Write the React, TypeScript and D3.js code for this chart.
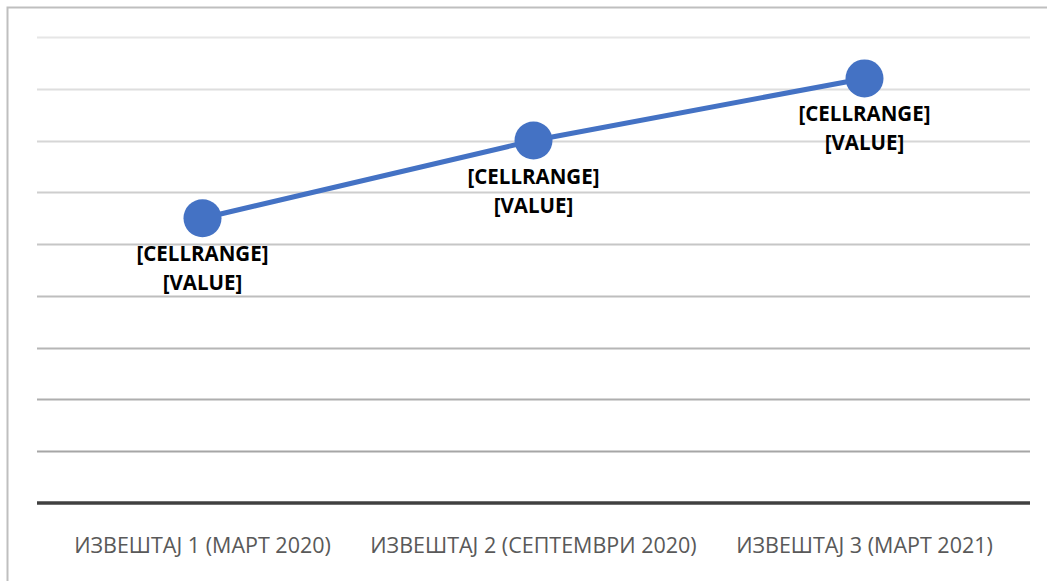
import React, { useEffect, useRef } from "react";
import * as d3 from "d3";

const CATEGORIES = [
  "ИЗВЕШТАЈ 1 (МАРТ 2020)",
  "ИЗВЕШТАЈ 2 (СЕПТЕМВРИ 2020)",
  "ИЗВЕШТАЈ 3 (МАРТ 2021)",
];
const VALUES = [5.5, 7.0, 8.2];
const Y_TICKS = [0, 1, 2, 3, 4, 5, 6, 7, 8, 9];
const LABEL_LINES = ["[CELLRANGE]", "[VALUE]"];

const W = 1047;
const H = 581;

export default function App() {
  const ref = useRef<SVGSVGElement>(null);

  useEffect(() => {
    if (!ref.current) return;
    const svg = d3.select(ref.current);
    svg.selectAll("*").remove();

    const margin = { left: 37, right: 17, top: 37, bottom: 78 };

    // chart frame
    svg
      .append("rect")
      .attr("x", 7.5)
      .attr("y", 7.5)
      .attr("width", W + 20)
      .attr("height", H + 20)
      .attr("fill", "#fff")
      .attr("stroke", "#bfbfbf")
      .attr("stroke-width", 2);

    const x = d3
      .scalePoint()
      .domain(CATEGORIES)
      .range([margin.left, W - margin.right])
      .padding(0.5);

    const y = d3
      .scaleLinear()
      .domain([0, 9])
      .range([503, margin.top]);

    // gridlines, getting darker toward the bottom
    const gridColor = d3
      .scaleLinear<string>()
      .domain([9, 1])
      .range(["#e6e6e6", "#a6a6a6"]);

    svg
      .append("g")
      .selectAll("line")
      .data(Y_TICKS.filter((d) => d > 0))
      .enter()
      .append("line")
      .attr("x1", margin.left)
      .attr("x2", W - margin.right)
      .attr("y1", (d) => Math.round(y(d)) + 0.5)
      .attr("y2", (d) => Math.round(y(d)) + 0.5)
      .attr("stroke", (d) => gridColor(d))
      .attr("stroke-width", 2);

    // baseline
    svg
      .append("line")
      .attr("x1", margin.left)
      .attr("x2", W - margin.right)
      .attr("y1", y(0))
      .attr("y2", y(0))
      .attr("stroke", "#404040")
      .attr("stroke-width", 3.5);

    // category labels
    svg
      .append("g")
      .selectAll("text")
      .data(CATEGORIES)
      .enter()
      .append("text")
      .attr("x", (d) => x(d)!)
      .attr("y", 553)
      .attr("text-anchor", "middle")
      .attr("fill", "#595959")
      .style("font-family", "'Open Sans', sans-serif")
      .style("font-size", "21.5px")
      .text((d) => d);

    const pts = CATEGORIES.map((c, i) => ({ c, v: VALUES[i] }));

    const line = d3
      .line<{ c: string; v: number }>()
      .x((d) => x(d.c)!)
      .y((d) => y(d.v));

    svg
      .append("path")
      .datum(pts)
      .attr("d", line)
      .attr("fill", "none")
      .attr("stroke", "#4472c4")
      .attr("stroke-width", 5);

    svg
      .append("g")
      .selectAll("circle")
      .data(pts)
      .enter()
      .append("circle")
      .attr("cx", (d) => x(d.c)!)
      .attr("cy", (d) => y(d.v))
      .attr("r", 19)
      .attr("fill", "#4472c4");

    // data labels
    const lbl = svg
      .append("g")
      .selectAll("text")
      .data(pts)
      .enter()
      .append("text")
      .attr("text-anchor", "middle")
      .attr("fill", "#000")
      .style("font-family", "'Open Sans', sans-serif")
      .style("font-size", "20.5px")
      .style("font-weight", "bold");
    LABEL_LINES.forEach((t, i) => {
      lbl
        .append("tspan")
        .attr("x", (d) => x(d.c)!)
        .attr("y", (d) => y(d.v) + 43 + i * 29)
        .text(t);
    });
  }, []);

  return (
    <svg
      ref={ref}
      width={W}
      height={H}
      style={{ position: "absolute", left: 0, top: 0, background: "#fff" }}
    ></svg>
  );
}
